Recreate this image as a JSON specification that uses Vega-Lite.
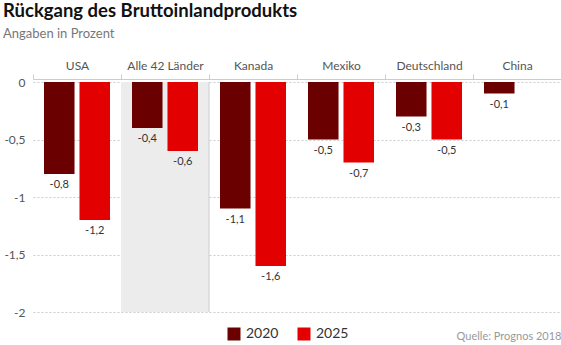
{
  "$schema": "https://vega.github.io/schema/vega-lite/v6.json",
  "width": 528,
  "height": 230,
  "autosize": {"type": "none"},
  "padding": {"left": 33, "top": 82, "right": 0, "bottom": 33},
  "title": {
    "text": "Rückgang des Bruttoinlandprodukts",
    "subtitle": "Angaben in Prozent",
    "anchor": "start",
    "frame": "group",
    "dx": -30,
    "font": "Lato",
    "fontSize": 18.5,
    "fontWeight": "bold",
    "color": "#111111",
    "subtitleFont": "Lato",
    "subtitleFontSize": 13,
    "subtitleColor": "#777777",
    "subtitlePadding": 8,
    "offset": 18
  },
  "config": {
    "view": {"stroke": null},
    "locale": {
      "number": {"decimal": ",", "thousands": ".", "grouping": [3], "currency": ["", " €"], "minus": "-"}
    }
  },
  "datasets": {
    "values": [
      {"country": "USA", "year": "2020", "value": -0.8},
      {"country": "USA", "year": "2025", "value": -1.2},
      {"country": "Alle 42 Länder", "year": "2020", "value": -0.4},
      {"country": "Alle 42 Länder", "year": "2025", "value": -0.6},
      {"country": "Kanada", "year": "2020", "value": -1.1},
      {"country": "Kanada", "year": "2025", "value": -1.6},
      {"country": "Mexiko", "year": "2020", "value": -0.5},
      {"country": "Mexiko", "year": "2025", "value": -0.7},
      {"country": "Deutschland", "year": "2020", "value": -0.3},
      {"country": "Deutschland", "year": "2025", "value": -0.5},
      {"country": "China", "year": "2020", "value": -0.1}
    ],
    "highlight": [{"country": "Alle 42 Länder"}]
  },
  "layer": [
    {
      "data": {"name": "highlight"},
      "mark": {"type": "bar", "color": "#ececec"},
      "encoding": {
        "x": {
          "field": "country", "type": "nominal",
          "scale": {"domain": ["USA", "Alle 42 Länder", "Kanada", "Mexiko", "Deutschland", "China"], "paddingInner": 0, "paddingOuter": 0},
          "axis": {
            "orient": "bottom", "labels": false, "ticks": false, "domain": false, "grid": false,
            "title": "Quelle: Prognos 2018", "titleAnchor": "end", "titleAlign": "right",
            "titleFont": "Lato", "titleFontSize": 11, "titleFontWeight": "normal", "titleColor": "#999999",
            "titlePadding": 18
          }
        },
        "y": {
          "datum": 0, "type": "quantitative", "title": null,
          "scale": {"domain": [-2, 0], "nice": false},
          "axis": {
            "values": [0, -0.5, -1, -1.5, -2], "format": "~f",
            "grid": true, "gridDash": [2, 2], "gridColor": "#cccccc",
            "domain": false, "ticks": false, "labelPadding": 8,
            "labelFont": "Lato", "labelFontSize": 12, "labelColor": "#555555"
          }
        },
        "y2": {"datum": -2}
      }
    },
    {
      "data": {"name": "highlight"},
      "mark": {"type": "rule", "color": "#cccccc", "strokeWidth": 1},
      "encoding": {
        "x": {"field": "country", "type": "nominal", "bandPosition": 1, "axis": null},
        "y": {"datum": 0, "type": "quantitative", "title": null},
        "y2": {"datum": -2}
      }
    },
    {
      "data": {"name": "values"},
      "mark": {"type": "bar"},
      "encoding": {
        "x": {
          "field": "country", "type": "nominal",
          "axis": {
            "orient": "top", "title": null, "labelAngle": 0, "tickBand": "extent",
            "domainColor": "#cccccc", "tickColor": "#cccccc", "tickSize": 5, "offset": 3,
            "labelFont": "Lato", "labelFontSize": 12, "labelColor": "#555555", "labelPadding": 2
          }
        },
        "xOffset": {"field": "year", "type": "nominal", "scale": {"domain": ["2020", "2025"], "paddingInner": 0.14, "paddingOuter": 0.31}},
        "y": {"field": "value", "type": "quantitative", "title": null},
        "color": {
          "field": "year", "type": "nominal",
          "scale": {"domain": ["2020", "2025"], "range": ["#6b0000", "#e30000"]},
          "legend": {
            "orient": "none", "legendX": 194, "legendY": 245, "direction": "horizontal",
            "title": null, "symbolType": "square", "symbolSize": 169, "symbolStrokeWidth": 0,
            "labelFont": "Lato", "labelFontSize": 14, "labelColor": "#333333",
            "columnPadding": 18, "labelOffset": 5
          }
        }
      }
    },
    {
      "data": {"name": "values"},
      "mark": {"type": "text", "baseline": "top", "dy": 5, "font": "Lato", "fontSize": 11, "color": "#333333"},
      "encoding": {
        "x": {"field": "country", "type": "nominal", "axis": null},
        "xOffset": {"field": "year", "type": "nominal"},
        "y": {"field": "value", "type": "quantitative", "title": null},
        "text": {"field": "value", "type": "quantitative", "format": ".1f"}
      }
    }
  ],
  "resolve": {"axis": {"x": "independent"}}
}
